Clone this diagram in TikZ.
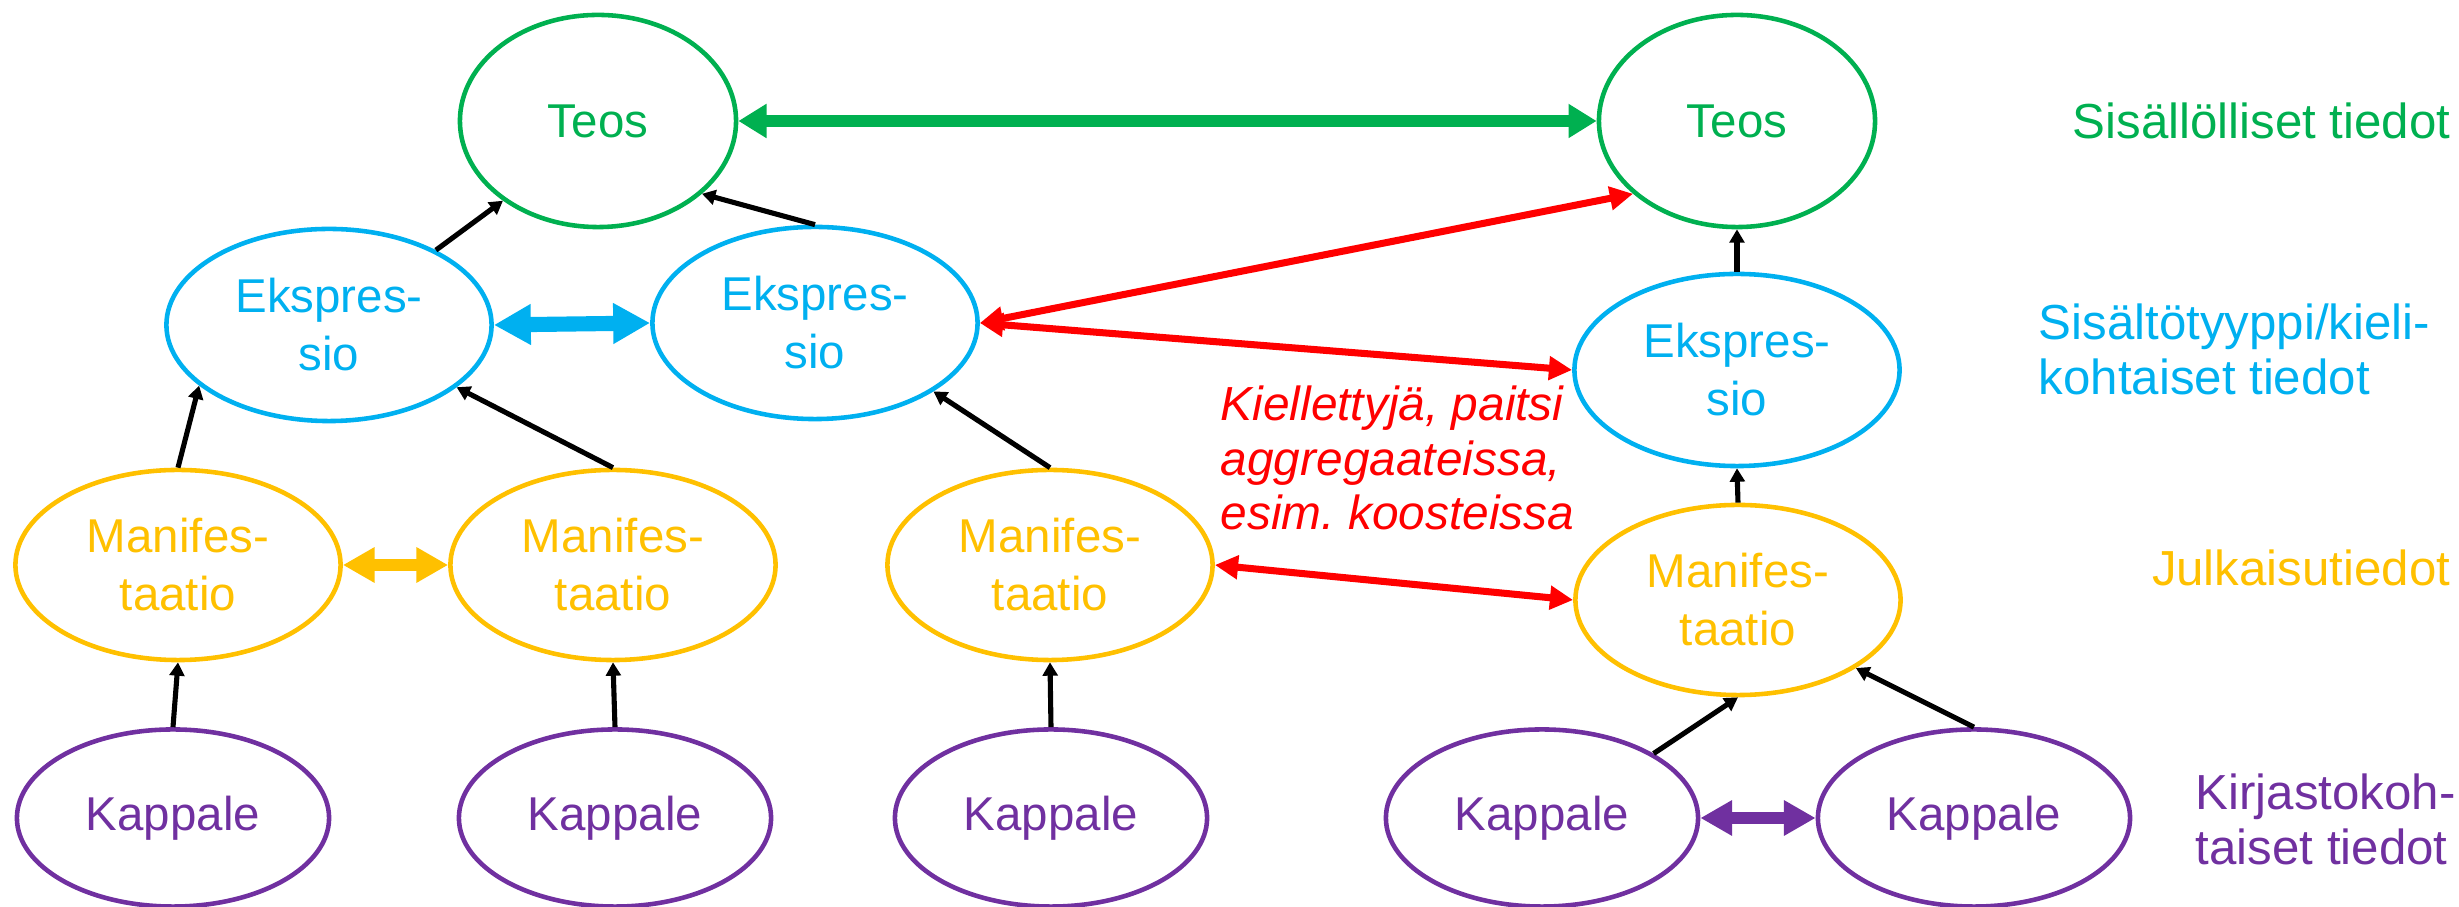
\documentclass[tikz,border=0pt]{standalone}
\usepackage{fontspec}
\setmainfont{Liberation Sans}
\usetikzlibrary{arrows.meta,positioning,shapes.geometric}

\definecolor{teosgreen}{HTML}{00B050}
\definecolor{eksblue}{HTML}{00B0F0}
\definecolor{manyellow}{HTML}{FFC000}
\definecolor{kplpurple}{HTML}{7030A0}
\definecolor{kieltored}{HTML}{FF0000}

\begin{document}
\frenchspacing
\begin{tikzpicture}[x=0.01cm,y=-0.01cm,
		entity/.style={ellipse,draw,line width=1.3pt,inner sep=0pt,align=center,font=\fontsize{13.5}{16.5}\selectfont},
		teos/.style={entity,draw=teosgreen,text=teosgreen,minimum width=2.76cm,minimum height=2.12cm},
		ekspr/.style={entity,draw=eksblue,text=eksblue,minimum width=3.25cm,minimum height=1.92cm},
		manif/.style={entity,draw=manyellow,text=manyellow,minimum width=3.25cm,minimum height=1.9cm},
		kappale/.style={entity,draw=kplpurple,text=kplpurple,minimum width=3.12cm,minimum height=1.77cm},
		taso/.style={inner sep=0pt,align=left,font=\fontsize{14}{15.6}\selectfont},
		marrow/.style={-{Triangle[length=3.8pt,width=4.2pt]},line width=1.45pt},
		darrow/.style 2 args={{Triangle[length=#1,width=#2]}-{Triangle[length=#1,width=#2]}}]
		\useasboundingbox (0,0) rectangle (2459,907);

		\node [teos] (teosA) at (598,121) {Teos};
		\node [teos] (teosB) at (1737,121) {Teos};

		\node [ekspr] (eksA) at (329,325) {Ekspres-\\sio};
		\node [ekspr] (eksB) at (815,323) {Ekspres-\\sio};
		\node [ekspr] (eksC) at (1737,370) {Ekspres-\\sio};

		\node [manif] (manA) at (178,565) {Manifes-\\taatio};
		\node [manif] (manB) at (613,565) {Manifes-\\taatio};
		\node [manif] (manC) at (1050,565) {Manifes-\\taatio};
		\node [manif] (manD) at (1738,600) {Manifes-\\taatio};

		\node [kappale] (kplA) at (173,818) {Kappale};
		\node [kappale] (kplB) at (615,818) {Kappale};
		\node [kappale] (kplC) at (1051,818) {Kappale};
		\node [kappale] (kplD) at (1542,818) {Kappale};
		\node [kappale] (kplE) at (1974,818) {Kappale};

		% levels on the right
		\node [taso,text=teosgreen,anchor=east] (tasoTeos) at (2451,121) {Sisällölliset tiedot};
		\node [taso,text=eksblue,anchor=west] (tasoEks) at (2038,349) {Sisältötyyppi/kieli-\\kohtaiset tiedot};
		\node [taso,text=manyellow,anchor=east] (tasoMan) at (2451,568) {Julkaisutiedot};
		\node [taso,text=kplpurple,anchor=west] (tasoKpl) at (2195,819) {Kirjastokoh-\\taiset tiedot};

		\node [taso,text=kieltored,anchor=west,font=\fontsize{13.6}{15.6}\selectfont\itshape] (kielto) at (1220,458) {Kiellettyjä, paitsi\\aggregaateissa,\\esim. koosteissa};

		% horizontal arrows
		\draw [darrow={8pt}{9.2pt},teosgreen,line width=3.2pt] (teosA.east) to (teosB.west);
		\draw [darrow={10.5pt}{10.9pt},eksblue,line width=4.3pt] (eksA.east) to (eksB.west);
		\draw [darrow={9pt}{9.5pt},manyellow,line width=3.2pt] (manA.east) to (manB.west);
		\draw [darrow={9pt}{9.5pt},kplpurple,line width=3.4pt] (kplD.east) to (kplE.west);
		\draw [darrow={6.6pt}{6.5pt},kieltored,line width=2pt] (eksB.east) to (teosB.215);
		\draw [darrow={6.6pt}{6.5pt},kieltored,line width=2pt] (eksB.east) to (eksC.west);
		\draw [darrow={6.6pt}{6.5pt},kieltored,line width=2pt] (manC.east) to (manD.west);

		% vertical arrows
		\draw [marrow] (eksA.35) to (teosA.220);
		\draw [marrow] (eksB.north) to (teosA.-35);
		\draw [marrow] (eksC.north) to (teosB.south);
		\draw [marrow] (manA.north) to (eksA.205);
		\draw [marrow] (manB.north) to (eksA.-26);
		\draw [marrow] (manC.north) to (eksB.-30);
		\draw [marrow] (manD.north) to (eksC.south);
		\draw [marrow] (kplA.north) to (manA.south);
		\draw [marrow] (kplB.north) to (manB.south);
		\draw [marrow] (kplC.north) to (manC.south);
		\draw [marrow] (kplD.30) to (manD.south);
		\draw [marrow] (kplE.north) to (manD.-30);
\end{tikzpicture}
\end{document}
